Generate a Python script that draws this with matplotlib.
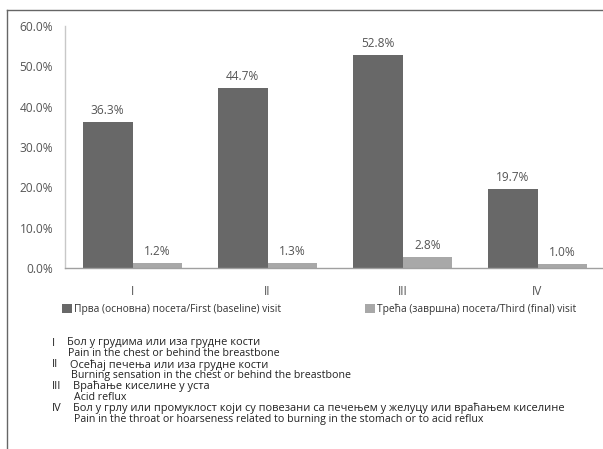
import matplotlib
matplotlib.use('Agg')
import matplotlib.pyplot as plt
from matplotlib.lines import Line2D
import numpy as np

# Data
categories = ['I', 'II', 'III', 'IV']
first_visit = [36.3, 44.7, 52.8, 19.7]
third_visit = [1.2, 1.3, 2.8, 1.0]
series_names = ['Прва (основна) посета/First (baseline) visit',
                'Трећа (завршна) посета/Third (final) visit']
y_ticks = [0, 10, 20, 30, 40, 50, 60]

note_numerals = ['I', 'II', 'III', 'IV']
note_serbian = ['Бол у грудима или иза грудне кости',
                'Осећај печења или иза грудне кости',
                'Враћање киселине у уста',
                'Бол у грлу или промуклост који су повезани са печењем у желуцу или враћањем киселине']
note_english = ['Pain in the chest or behind the breastbone',
                'Burning sensation in the chest or behind the breastbone',
                'Acid reflux',
                'Pain in the throat or hoarseness related to burning in the stomach or to acid reflux']

plt.rcParams['font.family'] = ['Open Sans', 'DejaVu Sans']

W, H = 603, 449
fig = plt.figure(figsize=(W / 100, H / 100), dpi=100)
fig.patch.set_facecolor('white')

# axes: left edge at x=65, zero at y=268, 60% at y=26 (pixels)
ax = fig.add_axes([65 / W, (H - 268) / H, 540 / W, 242 / H])

x = np.arange(len(categories))
w = 0.367
dark = '#686868'
light = '#a8a8a8'
b1 = ax.bar(x - w / 2, first_visit, w, color=dark, label=series_names[0])
b2 = ax.bar(x + w / 2, third_visit, w, color=light, label=series_names[1])

for bars, vals in ((b1, first_visit), (b2, third_visit)):
    for r, v in zip(bars, vals):
        ax.annotate(f'{v:.1f}%', (r.get_x() + r.get_width() / 2, v),
                    xytext=(0, 3.5), textcoords='offset points',
                    ha='center', va='bottom', fontsize=8.6, color='#555555')

ax.set_xlim(-0.5, 3.5)
ax.set_ylim(0, 60)
ax.set_yticks(y_ticks)
ax.set_yticklabels([f'{t:.1f}%' for t in y_ticks])
ax.set_xticks(x)
ax.set_xticklabels(categories)
ax.tick_params(axis='both', length=0, labelsize=8.6, labelcolor='#555555')
ax.tick_params(axis='x', pad=12)
ax.tick_params(axis='y', pad=8.5)

for s in ('top', 'right'):
    ax.spines[s].set_visible(False)
ax.spines['left'].set_color('#c8c8c8')
ax.spines['bottom'].set_color('#a0a0a0')
ax.spines['left'].set_linewidth(1.0)
ax.spines['bottom'].set_linewidth(1.0)

fig.legend(handles=[b1, b2], loc='center left',
           bbox_to_anchor=(53 / W, 1 - 309 / H), ncol=2, frameon=False,
           fontsize=7.4, handlelength=0.95, handleheight=0.95,
           handletextpad=0.2, columnspacing=8.2, labelcolor='#333333')

# frame lines
fig.add_artist(Line2D([7 / W, 1], [1 - 10 / H, 1 - 10 / H],
                      transform=fig.transFigure, color='#666666', lw=1))
fig.add_artist(Line2D([7 / W, 7 / W], [0, 1 - 10 / H],
                      transform=fig.transFigure, color='#666666', lw=1))

# notes
y0 = 343
step = 10.9
text_x = [67, 70, 73, 73]
for i, (num, sr, en) in enumerate(zip(note_numerals, note_serbian, note_english)):
    ya = y0 + 2 * i * step
    yb = ya + step
    fig.text(52 / W, 1 - ya / H, num, fontsize=7.9, va='center', color='#222222')
    fig.text(text_x[i] / W, 1 - ya / H, sr, fontsize=7.9, va='center', color='#222222')
    fig.text((text_x[i] + 1) / W, 1 - yb / H, en, fontsize=7.7, va='center', color='#222222')

fig.savefig('out.png', dpi=100)
